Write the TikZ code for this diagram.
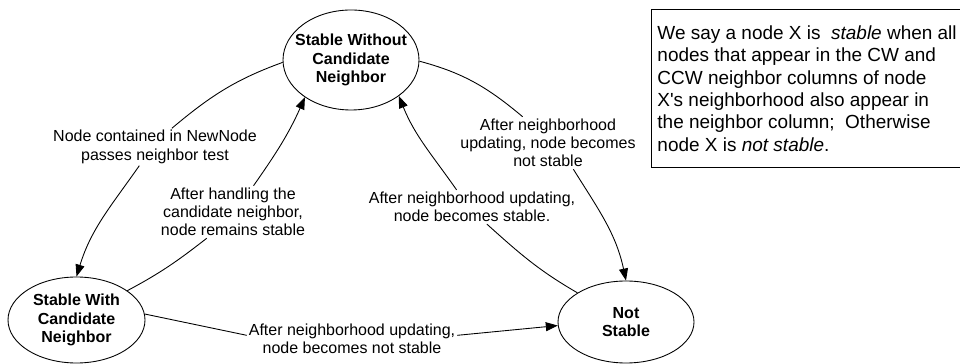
\documentclass[tikz,border=0pt]{standalone}
\usepackage{fontspec}
\setmainfont{Liberation Sans}
\usetikzlibrary{shapes.geometric, arrows.meta}

\tikzset{
  state/.style={ellipse, draw, line width=0.5pt, inner sep=0pt, align=center,
    font=\fontsize{9.1}{10.4}\selectfont\bfseries},
  edgetext/.style={align=center, inner sep=1pt, font=\fontsize{9.1}{10.4}\selectfont},
  trans/.style={line width=0.5pt},
  transarrow/.style={line width=0.5pt, -{Triangle[length=2.4mm,width=1.8mm]}}
}

\begin{document}
\begin{tikzpicture}
\useasboundingbox (0,0) rectangle (19.2,7.28);

\node[state, minimum width=2.72cm, minimum height=2cm, inner xsep=-2mm] (swc) at (7.02,6.08) {Stable Without\\Candidate\\Neighbor};
\node[state, minimum width=2.74cm, minimum height=1.72cm] (sw) at (1.53,0.88) {Stable With\\Candidate\\Neighbor};
\node[state, minimum width=2.72cm, minimum height=1.64cm] (ns) at (12.52,0.84) {Not\\Stable};

\node[edgetext] (l1) at (3.1,4.34) {Node contained in NewNode\\passes neighbor test};
\node[edgetext] (l2) at (4.66,3.04) {After handling the\\candidate neighbor,\\node remains stable};
\node[edgetext] (l3) at (10.96,4.42) {After neighborhood\\updating, node becomes\\not stable};
\node[edgetext] (l4) at (9.44,3.14) {After neighborhood updating,\\node becomes stable.};
\node[edgetext] (l5) at (7.04,0.5) {After neighborhood updating,\\node becomes not stable};

\node[draw, line width=0.5pt, anchor=north west, minimum height=3.16cm,
  inner xsep=0.12cm, align=left, font=\fontsize{10.8}{12.7}\selectfont] (def) at (13.02,7.1)
  {We say a node X is~ \textit{stable} when all\\
   nodes that appear in the CW and\\
   CCW neighbor columns of node\\
   X\textquotesingle s neighborhood also appear in\\
   the neighbor column;~ Otherwise\\
   node X is \textit{not stable}.};

\draw[trans] (swc.182) to[out=200,in=40] (l1.48);
\draw[transarrow] (l1.230) to[out=235,in=73] (sw.90);
\draw[trans] (sw.30) to[out=28,in=218] (l2.225);
\draw[transarrow] (l2.52) to[out=55,in=246] (swc.219);
\draw[trans] (swc.-1) to[out=-15,in=140] (l3.134);
\draw[transarrow] (l3.314) to[out=-58,in=102] (ns.90);
\draw[trans] (ns.149) to[out=150,in=-42] (l4.311);
\draw[transarrow] (l4.132) to[out=125,in=292] (swc.323);
\draw[trans] (sw.5) -- (l5.178);
\draw[transarrow] (l5.2) -- (ns.183);
\end{tikzpicture}
\end{document}
